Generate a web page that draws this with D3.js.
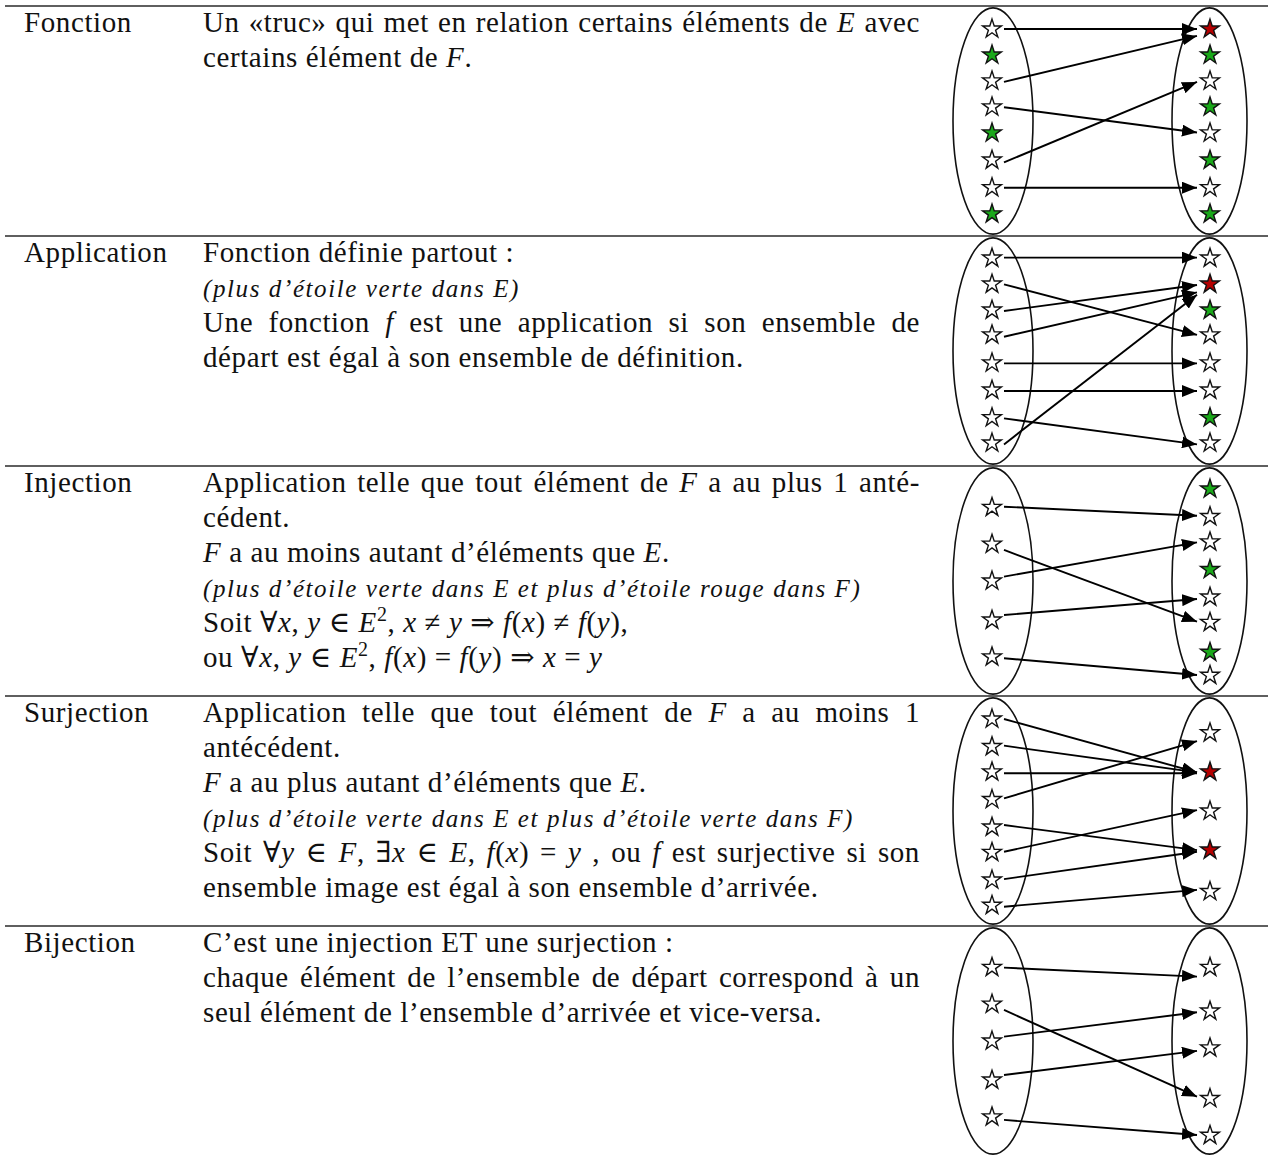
<!DOCTYPE html>
<html>
<head>
<meta charset="utf-8">
<script src="https://cdn.jsdelivr.net/npm/d3@7"></script>
<style>
  body { margin: 0; background: #fff; }
  svg text { font-family: "Liberation Serif", "DejaVu Serif", serif; fill: #111; white-space: pre; }
</style>
</head>
<body>
<script>
// row names (first column)
const rowLabels = ["Fonction", "Application", "Injection", "Surjection", "Bijection"];

// text of the second column, one string per line. $..$ = math, "~" prefix = small italic remark
const fonctionLines = [
  "Un «truc» qui met en relation certains éléments de $E$ avec",
  "certains élément de $F$."
];
const applicationLines = [
  "Fonction définie partout :",
  "~(plus d’étoile verte dans E)",
  "Une fonction $f$ est une application si son ensemble de",
  "départ est égal à son ensemble de définition."
];
const injectionLines = [
  "Application telle que tout élément de $F$ a au plus 1 anté-",
  "cédent.",
  "$F$ a au moins autant d’éléments que $E$.",
  "~(plus d’étoile verte dans E et plus d’étoile rouge dans F)",
  "Soit $∀x, y ∈ E^2, x ≠ y ⇒ f(x) ≠ f(y)$,",
  "ou $∀x, y ∈ E^2, f(x) = f(y) ⇒ x = y$"
];
const surjectionLines = [
  "Application telle que tout élément de $F$ a au moins 1",
  "antécédent.",
  "$F$ a au plus autant d’éléments que $E$.",
  "~(plus d’étoile verte dans E et plus d’étoile verte dans F)",
  "Soit $∀y ∈ F, ∃x ∈ E, f(x) = y$ , ou $f$ est surjective si son",
  "ensemble image est égal à son ensemble d’arrivée."
];
const bijectionLines = [
  "C’est une injection ET une surjection :",
  "chaque élément de l’ensemble de départ correspond à un",
  "seul élément de l’ensemble d’arrivée et vice-versa."
];
// lines that are full (justified) inside their paragraph
const justifiedLines = [[0], [2], [0], [0, 4], [1]];

// diagrams: star colours (w white, g green, r red) and their heights (0 = top of the row, 100 = bottom)
const fonctionE = "wgwwgwwg", fonctionF = "rgwgwgwg";
const fonctionEPos = [10, 21.3, 32.6, 43.9, 55.2, 67, 79, 90.4];
const fonctionFPos = [10, 21.3, 32.6, 43.9, 55.2, 67, 79, 90.4];
const fonctionArrows = [[10, 10], [33, 13], [44, 55], [68, 33], [79, 79]];

const applicationE = "wwwwwwww", applicationF = "wrgwwwgw";
const applicationEPos = [9.6, 20.9, 32.2, 43, 55.2, 67, 79, 90];
const applicationFPos = [9.6, 20.9, 32.2, 43, 55.2, 67, 79, 90];
const applicationArrows = [[9.4, 9.4], [21, 43], [32.6, 21.3], [43.8, 24.5], [55.4, 55.4], [67.4, 67.4], [79.3, 90.6], [90.6, 25.5]];

const injectionE = "wwwww", injectionF = "gwwgwwgw";
const injectionEPos = [18, 34, 50, 67, 83];
const injectionFPos = [10, 22, 33, 45, 57, 68, 81, 91];
const injectionArrows = [[17.7, 21.6], [36.5, 67.7], [48.1, 33.2], [64.8, 57.8], [83.6, 90.9]];

const surjectionE = "wwwwwwww", surjectionF = "wrwrw";
const surjectionEPos = [10, 22, 33, 45, 57, 68, 80, 91];
const surjectionFPos = [16, 33, 50, 67, 85];
const surjectionArrows = [[10, 33.2], [21.6, 33.2], [33.6, 33.6], [44.5, 19.6], [56.1, 67], [67.7, 49.6], [79.6, 67.7], [91.6, 84.3]];

const bijectionE = "wwwww", bijectionF = "wwwww";
const bijectionEPos = [18, 34, 50, 67, 83];
const bijectionFPos = [18, 37, 53, 75, 91];
const bijectionArrows = [[18.1, 22], [36.5, 74.2], [48.1, 37.5], [64.8, 54.3], [84.3, 90.9]];

const rowLines = [fonctionLines, applicationLines, injectionLines, surjectionLines, bijectionLines];
const diagrams = [
  { E: fonctionE, F: fonctionF, ep: fonctionEPos, fp: fonctionFPos, arrows: fonctionArrows },
  { E: applicationE, F: applicationF, ep: applicationEPos, fp: applicationFPos, arrows: applicationArrows },
  { E: injectionE, F: injectionF, ep: injectionEPos, fp: injectionFPos, arrows: injectionArrows },
  { E: surjectionE, F: surjectionF, ep: surjectionEPos, fp: surjectionFPos, arrows: surjectionArrows },
  { E: bijectionE, F: bijectionF, ep: bijectionEPos, fp: bijectionFPos, arrows: bijectionArrows }
];

const W = 1271, H = 1155;
const fontSize = 29, smallSize = 25, lineStep = 35;
const labelX = 24, textX = 203, textRight = 920;
const starColor = { w: "#ffffff", g: "#1aa81a", r: "#b50000" };

const svg = d3.select("body").append("svg")
  .attr("width", W).attr("height", H);

svg.append("defs").append("marker")
  .attr("id", "head")
  .attr("markerUnits", "userSpaceOnUse")
  .attr("viewBox", "0 0 15 12")
  .attr("refX", 15).attr("refY", 6)
  .attr("markerWidth", 15).attr("markerHeight", 12)
  .attr("orient", "auto")
  .append("path").attr("d", "M0,0L15,6L0,12Z").attr("fill", "#000");

const rowY = d3.scaleBand().domain(rowLabels).range([6, 6 + 230 * rowLabels.length]);

// x places of the two sets inside a diagram
const setX = d3.scalePoint().domain(["E", "F"]).range([992, 1210]);
const arrowX = d3.scalePoint().domain(["E", "F"]).range([1004, 1197]);
const star = d3.symbol().type(d3.symbolStar).size(110);

function writeLine(g, str, y, justify) {
  let italic = false;
  if (str[0] === "~") { italic = true; str = str.slice(1); }
  const size = italic ? smallSize : fontSize;
  const t = g.append("text").attr("x", textX).attr("y", y)
    .style("font-size", size + "px")
    .style("letter-spacing", italic ? "1.6px" : "0.6px");
  if (italic) t.style("font-style", "italic");
  let shift = 0;
  const add = (s, it, sup) => {
    const ts = t.append("tspan").text(s);
    if (it) ts.style("font-style", "italic");
    if (sup) { ts.attr("dy", -11).style("font-size", Math.round(size * 0.7) + "px"); shift = 11; }
    else if (shift) { ts.attr("dy", shift); shift = 0; }
  };
  str.split("$").forEach((part, k) => {
    if (!part) return;
    if (k % 2 === 0) { add(part, false, false); return; }
    let buf = "";
    for (let i = 0; i < part.length; i++) {
      const c = part[i];
      if (c === "^") { if (buf) add(buf, false, false); buf = ""; add(part[++i], false, true); }
      else if (/[a-zA-Z]/.test(c)) { if (buf) add(buf, false, false); buf = ""; add(c, true, false); }
      else buf += c;
    }
    if (buf) add(buf, false, false);
  });
  if (justify) {
    const natural = t.node().getComputedTextLength();
    const spaces = str.replace(/\$/g, "").split(" ").length - 1;
    t.style("word-spacing", ((textRight - textX - natural) / spaces) + "px");
  }
}

rowLabels.forEach((label, r) => {
  const top = rowY(label);
  const g = svg.append("g");

  g.append("line")
    .attr("x1", 5).attr("x2", 1268).attr("y1", top).attr("y2", top)
    .attr("stroke", "#2a2a2a").attr("stroke-width", 1.6);

  g.append("text").attr("x", labelX).attr("y", top + 26)
    .style("font-size", fontSize + "px").style("letter-spacing", "0.6px").text(label);

  rowLines[r].forEach((line, i) => {
    writeLine(g, line, top + 26 + i * lineStep, justifiedLines[r].includes(i));
  });

  // diagram
  const d = diagrams[r];
  const y = d3.scaleLinear().domain([0, 100]).range([top, top + rowY.bandwidth()]);
  const dg = svg.append("g");

  [["E", 993, 40], ["F", 1209.5, 37.5]].forEach(([k, cx, rx]) => {
    dg.append("ellipse")
      .attr("cx", cx).attr("cy", y(50)).attr("rx", rx).attr("ry", y(49.2) - y(0))
      .attr("fill", "none").attr("stroke", "#111").attr("stroke-width", 1.6);
  });

  dg.selectAll(".arrow").data(d.arrows).join("line")
    .attr("x1", arrowX("E")).attr("y1", a => y(a[0]))
    .attr("x2", arrowX("F")).attr("y2", a => y(a[1]))
    .attr("stroke", "#000").attr("stroke-width", 1.9)
    .attr("marker-end", "url(#head)");

  [["E", d.E, d.ep], ["F", d.F, d.fp]].forEach(([k, cols, pos]) => {
    dg.selectAll(".s" + k).data(cols.split("")).join("path")
      .attr("transform", (c, i) => `translate(${setX(k)},${y(pos[i])})`)
      .attr("d", star)
      .attr("fill", c => starColor[c])
      .attr("stroke", "#111").attr("stroke-width", 1.4);
  });
});
</script>
</body>
</html>
